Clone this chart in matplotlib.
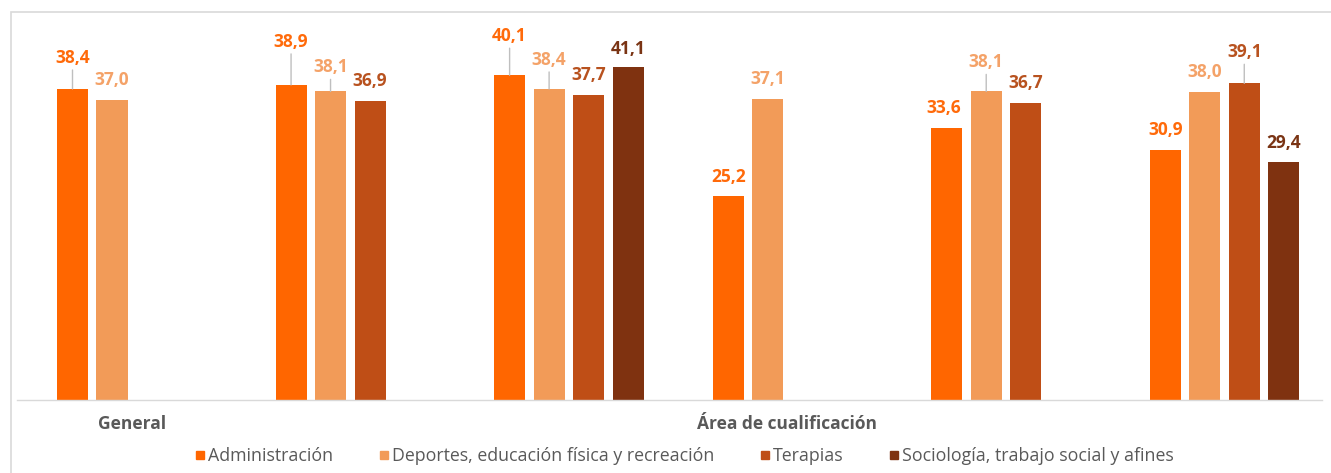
import numpy as np
import matplotlib.pyplot as plt
from matplotlib.patches import Rectangle
from matplotlib.lines import Line2D

plt.rcParams['font.family'] = ['Open Sans', 'DejaVu Sans']

# ------------------------------ datos ------------------------------

grupos = ["General", "Área 1", "Área 2", "Área 3", "Área 4", "Área 5"]
series = [
    "Administración",
    "Deportes, educación física y recreación",
    "Terapias",
    "Sociología, trabajo social y afines",
]

administracion = [38.4, 38.9, 40.1, 25.2, 33.6, 30.9]
deportes = [37.0, 38.1, 38.4, 37.1, 38.1, 38.0]
terapias = [np.nan, 36.9, 37.7, np.nan, 36.7, 39.1]
sociologia = [np.nan, np.nan, 41.1, np.nan, np.nan, 29.4]

valores = [administracion, deportes, terapias, sociologia]

# ------------------------------ estilo ------------------------------

colores_barra = ["#FF6600", "#F29B58", "#BF4E16", "#7F3210"]
colores_texto = ["#FF6A0A", "#F4A268", "#B8521F", "#7A3414"]
gris_texto = "#595959"
gris_linea = "#D9D9D9"

# altura de cada etiqueta sobre la barra (px); las altas llevan línea guía
elevacion = [
    [31, 43, 39, 19, 20, 20],
    [20, 24, 29, 20, 29, 20],
    [0, 20, 20, 0, 20, 31],
    [0, 0, 18, 0, 0, 19],
]
desplaz_x = [
    [0, 0, 0, 0, -3, 0],
    [0, 0, 0, 0, 0, 0],
    [0, 0, 0, 0, 0, 0],
    [0, 0, 0, 0, 0, 0],
]

paso = 0.1807
ancho = 0.142
px = 0.72  # puntos por pixel a dpi 100

fig = plt.figure(figsize=(13.31, 4.73), dpi=100)
ax = fig.add_axes([17 / 1331, 73 / 473, 1305 / 1331, 360 / 473])

x = np.arange(len(grupos))

for k in range(4):
    pos = x + (k - 1.5) * paso
    vals = np.array(valores[k], dtype=float)
    ax.bar(pos, vals, width=ancho, color=colores_barra[k], zorder=2)

    for i, v in enumerate(vals):
        if np.isnan(v):
            continue
        lift = elevacion[k][i]
        etiqueta = f"{v:.1f}".replace(".", ",")
        ax.annotate(
            etiqueta,
            xy=(pos[i], v),
            xytext=(desplaz_x[k][i] * px, lift * px),
            textcoords="offset points",
            ha="center",
            va="center",
            fontsize=12.5,
            fontweight="bold",
            color=colores_texto[k],
        )
        if lift > 22:
            ax.annotate(
                "",
                xy=(pos[i], v),
                xytext=(0, (lift - 12) * px),
                textcoords="offset points",
                arrowprops=dict(arrowstyle="-", color="#BFBFBF", lw=1,
                                shrinkA=0, shrinkB=0),
            )

ax.set_xlim(-0.525, 5.446)
ax.set_ylim(0, 360 / 8.1)

for lado in ["top", "right", "left"]:
    ax.spines[lado].set_visible(False)
ax.spines["bottom"].set_color(gris_linea)
ax.spines["bottom"].set_linewidth(1)
ax.set_yticks([])
ax.set_xticks([])

# etiquetas de categoría de nivel superior
ax.annotate("General", xy=(0, 0), xytext=(0, -24 * px),
            textcoords="offset points", ha="center", va="center",
            fontsize=12.5, fontweight="bold", color=gris_texto)
ax.annotate("Área de cualificación", xy=(3, 0), xytext=(0, -24 * px),
            textcoords="offset points", ha="center", va="center",
            fontsize=12.5, fontweight="bold", color=gris_texto)

# leyenda
handles = [
    Line2D([], [], marker="s", linestyle="none", markersize=6,
           color=c, label=s)
    for c, s in zip(colores_barra, series)
]
leg = fig.legend(handles=handles, loc="center", ncol=4,
                 bbox_to_anchor=(683 / 1331, 1 - 456 / 473),
                 frameon=False, fontsize=12.8, handletextpad=0.0,
                 columnspacing=2.4, handlelength=0.9)
for t in leg.get_texts():
    t.set_color(gris_texto)

# marco exterior (solo bordes superior e izquierdo visibles)
fig.add_artist(Rectangle((11 / 1331, -0.1), 1.2, 1 - 12 / 473 + 0.1,
                         transform=fig.transFigure, fill=False,
                         edgecolor=gris_linea, lw=1.2))

fig.savefig("out.png", dpi=100)
